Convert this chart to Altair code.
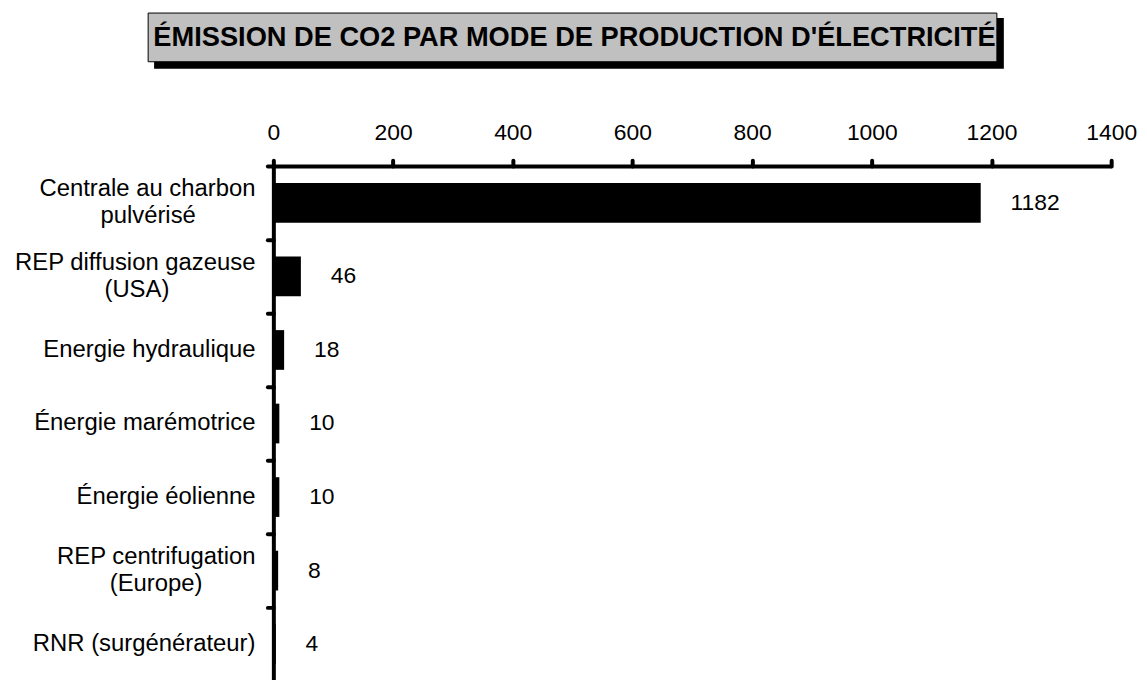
import json
import altair as alt
import pandas as pd

TITLE = "ÉMISSION DE CO2 PAR MODE DE PRODUCTION D'ÉLECTRICITÉ"
# "|" marks a line break inside a category label
categories = [
    "Centrale au charbon|pulvérisé",
    "REP diffusion gazeuse|(USA)",
    "Energie hydraulique",
    "Énergie marémotrice",
    "Énergie éolienne",
    "REP centrifugation|(Europe)",
    "RNR (surgénérateur)",
]
values = [1182, 46, 18, 10, 10, 8, 4]
x_ticks = [0, 200, 400, 600, 800, 1000, 1200, 1400]

FONT = "Liberation Sans, Arial, sans-serif"
NBSP = "\u00a0"
ZWSP = "\u200b"  # keeps the trailing spaces from being trimmed
# trailing non-breaking spaces so the short second line sits centred under the first
second_line_pad = {
    "Centrale au charbon|pulvérisé": 9,
    "REP diffusion gazeuse|(USA)": 13,
    "REP centrifugation|(Europe)": 8,
}

df = pd.DataFrame({"cat": categories, "val": values})
title_df = pd.DataFrame({"title": [TITLE]})

y_scale = alt.Scale(domain=categories, paddingInner=0.46, paddingOuter=0.23)

y_enc = alt.Y(
    "cat:N",
    scale=y_scale,
    axis=alt.Axis(
        title=None,
        orient="left",
        labels=False,
        bandPosition=0,
        tickOffset=-17,
        tickSize=6,
        tickWidth=4,
        tickCap="round",
        tickColor="black",
        domainColor="black",
        domainWidth=4,
    ),
)

x_enc = alt.X(
    "val:Q",
    scale=alt.Scale(domain=[0, 1400], nice=False),
    axis=alt.Axis(
        title=None,
        orient="top",
        values=x_ticks,
        format="d",
        grid=False,
        tickSize=6,
        tickWidth=4,
        tickCap="round",
        tickColor="black",
        domainColor="black",
        domainWidth=4,
        labelFont=FONT,
        labelFontSize=23,
        labelColor="black",
        labelPadding=16,
        labelFlush=False,
    ),
)

bars = alt.Chart(df).mark_bar(color="black").encode(x=x_enc, y=y_enc)

values_text = alt.Chart(df).mark_text(
    align="left", baseline="middle", dx=30, font=FONT, fontSize=23, color="black"
).encode(x="val:Q", y=alt.Y("cat:N", scale=y_scale), text="val:Q")

pad_map = json.dumps(second_line_pad, ensure_ascii=False)
single_cats = alt.Chart(df).transform_filter(
    "indexof(datum.cat, '|') < 0"
).mark_text(
    align="right", baseline="middle", font=FONT, fontSize=24, color="black"
).encode(x=alt.value(-18), y=alt.Y("cat:N", scale=y_scale), text="cat:N")

multi_cats = alt.Chart(df).transform_filter(
    "indexof(datum.cat, '|') >= 0"
).transform_calculate(
    lines=(
        "[split(datum.cat, '|')[0], split(datum.cat, '|')[1] + "
        f"pad('', {pad_map}[datum.cat], '{NBSP}') + '{ZWSP}']"
    )
).mark_text(
    align="right", baseline="middle", dy=-13.5, lineHeight=27,
    font=FONT, fontSize=24, color="black"
).encode(x=alt.value(-18), y=alt.Y("cat:N", scale=y_scale), text="lines:N")

shadow = alt.Chart(title_df).mark_rect(color="black").encode(
    x=alt.value(-120), x2=alt.value(735), y=alt.value(-149), y2=alt.value(-98)
)
box = alt.Chart(title_df).mark_rect(
    fill="#c0c0c0", stroke="black", strokeWidth=1
).encode(
    x=alt.value(-126), x2=alt.value(728), y=alt.value(-154), y2=alt.value(-105)
)
title_text = alt.Chart(title_df).mark_text(
    align="center", baseline="middle", font=FONT, fontSize=27.4, fontWeight="bold",
    color="black"
).encode(x=alt.value(303), y=alt.value(-129), text="title:N")

chart = alt.layer(
    shadow, box, title_text, bars, values_text, single_cats, multi_cats
).properties(
    width=843,
    height=518,
    autosize=alt.AutoSizeParams(type="none"),
    padding={"left": 267, "top": 157, "right": 28, "bottom": 0},
    background="white",
).configure_view(stroke=None)

chart.save("out.html", embed_options={"renderer": "svg", "actions": False})
